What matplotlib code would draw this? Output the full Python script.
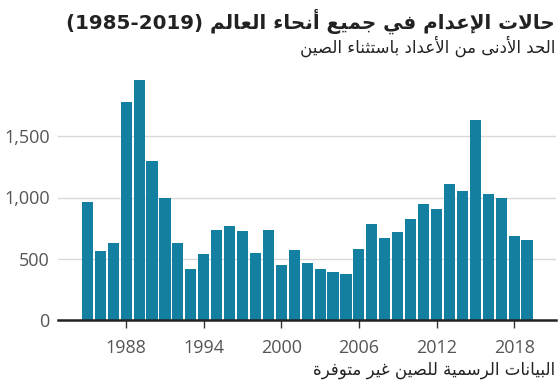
import re
import numpy as np
import matplotlib
matplotlib.use("Agg")
import matplotlib.pyplot as plt

years = np.arange(1985, 2020)
executions = [960, 560, 630, 1780, 1960, 1300, 1000, 625, 415, 535,
              736, 769, 728, 551, 731, 451, 575, 462, 413, 391,
              372, 576, 780, 666, 715, 823, 951, 910, 1111, 1057,
              1636, 1029, 992, 687, 652]
xticks = [1988, 1994, 2000, 2006, 2012, 2018]
yticks = [0, 500, 1000, 1500]
ytick_labels = ["0", "500", "1,000", "1,500"]

title = "حالات الإعدام في جميع أنحاء العالم (1985-2019)"
subtitle = "الحد الأدنى من الأعداد باستثناء الصين"
source = "البيانات الرسمية للصين غير متوفرة"

# matplotlib has no arabic shaping -> map to presentation forms and reverse by hand
FORMS = {'ء': (0xFE80, 1), 'آ': (0xFE81, 2), 'أ': (0xFE83, 2), 'ؤ': (0xFE85, 2),
         'إ': (0xFE87, 2), 'ئ': (0xFE89, 4), 'ا': (0xFE8D, 2), 'ب': (0xFE8F, 4),
         'ة': (0xFE93, 2), 'ت': (0xFE95, 4), 'ث': (0xFE99, 4), 'ج': (0xFE9D, 4),
         'ح': (0xFEA1, 4), 'خ': (0xFEA5, 4), 'د': (0xFEA9, 2), 'ذ': (0xFEAB, 2),
         'ر': (0xFEAD, 2), 'ز': (0xFEAF, 2), 'س': (0xFEB1, 4), 'ش': (0xFEB5, 4),
         'ص': (0xFEB9, 4), 'ض': (0xFEBD, 4), 'ط': (0xFEC1, 4), 'ظ': (0xFEC5, 4),
         'ع': (0xFEC9, 4), 'غ': (0xFECD, 4), 'ف': (0xFED1, 4), 'ق': (0xFED5, 4),
         'ك': (0xFED9, 4), 'ل': (0xFEDD, 4), 'م': (0xFEE1, 4), 'ن': (0xFEE5, 4),
         'ه': (0xFEE9, 4), 'و': (0xFEED, 2), 'ى': (0xFEEF, 2), 'ي': (0xFEF1, 4),
         '\uE001': (0xFEF5, 2), '\uE002': (0xFEF7, 2), '\uE003': (0xFEF9, 2),
         '\uE004': (0xFEFB, 2)}


def ar(s):
    for a, lig in (('آ', '\uE001'), ('أ', '\uE002'), ('إ', '\uE003'), ('ا', '\uE004')):
        s = s.replace('ل' + a, lig)
    out = []
    for i, c in enumerate(s):
        if c not in FORMS:
            out.append(c)
            continue
        base, n = FORMS[c]
        prev = s[i - 1] if i > 0 else ''
        nxt = s[i + 1] if i + 1 < len(s) else ''
        jp = prev in FORMS and FORMS[prev][1] == 4
        jn = n == 4 and nxt in FORMS and FORMS[nxt][1] > 1
        if n == 1:
            k = 0
        elif jp and jn:
            k = 3
        elif jp:
            k = 1
        elif jn:
            k = 2
        else:
            k = 0
        out.append(chr(base + k))
    v = ''.join(out)[::-1]
    v = v.translate(str.maketrans('()', ')('))
    return re.sub(r'[0-9][0-9\-,.]*[0-9]', lambda m: m.group(0)[::-1], v)


fig = plt.figure(figsize=(5.6, 3.91), dpi=100)
ax = fig.add_axes([58 / 560, 71 / 391, 498 / 560, 245 / 391])

ax.bar(years, executions, width=0.86, color="#1380A1", zorder=2)
ax.set_xlim(1982.73, 2021.24)
ax.set_ylim(0, 2000)
ax.set_yticks(yticks)
ax.set_yticklabels(ytick_labels)
ax.set_xticks(xticks)
ax.grid(axis="y", color="#d9d9d9", lw=1, zorder=0)
for s in ["top", "right", "left"]:
    ax.spines[s].set_visible(False)
ax.spines["bottom"].set_color("#222222")
ax.spines["bottom"].set_linewidth(1.8)
ax.spines["bottom"].set_zorder(3)
ax.tick_params(axis="y", length=0, pad=6, labelsize=13, labelcolor="#555555")
ax.tick_params(axis="x", length=6, width=1, color="#333333", pad=8,
               labelsize=13, labelcolor="#555555")
for lab in ax.get_xticklabels() + ax.get_yticklabels():
    lab.set_family("Open Sans")

fig.text(555 / 560, 1 - 21 / 391, ar(title), ha="right", va="center",
         fontsize=14.3, fontweight="bold", color="#222222", family="DejaVu Sans")
fig.text(555 / 560, 1 - 46 / 391, ar(subtitle), ha="right", va="center",
         fontsize=12, color="#222222", family="DejaVu Sans")
fig.text(555 / 560, 1 - 370 / 391, ar(source), ha="right", va="center",
         fontsize=12, color="#222222", family="DejaVu Sans")

fig.savefig("out.png", dpi=100)
